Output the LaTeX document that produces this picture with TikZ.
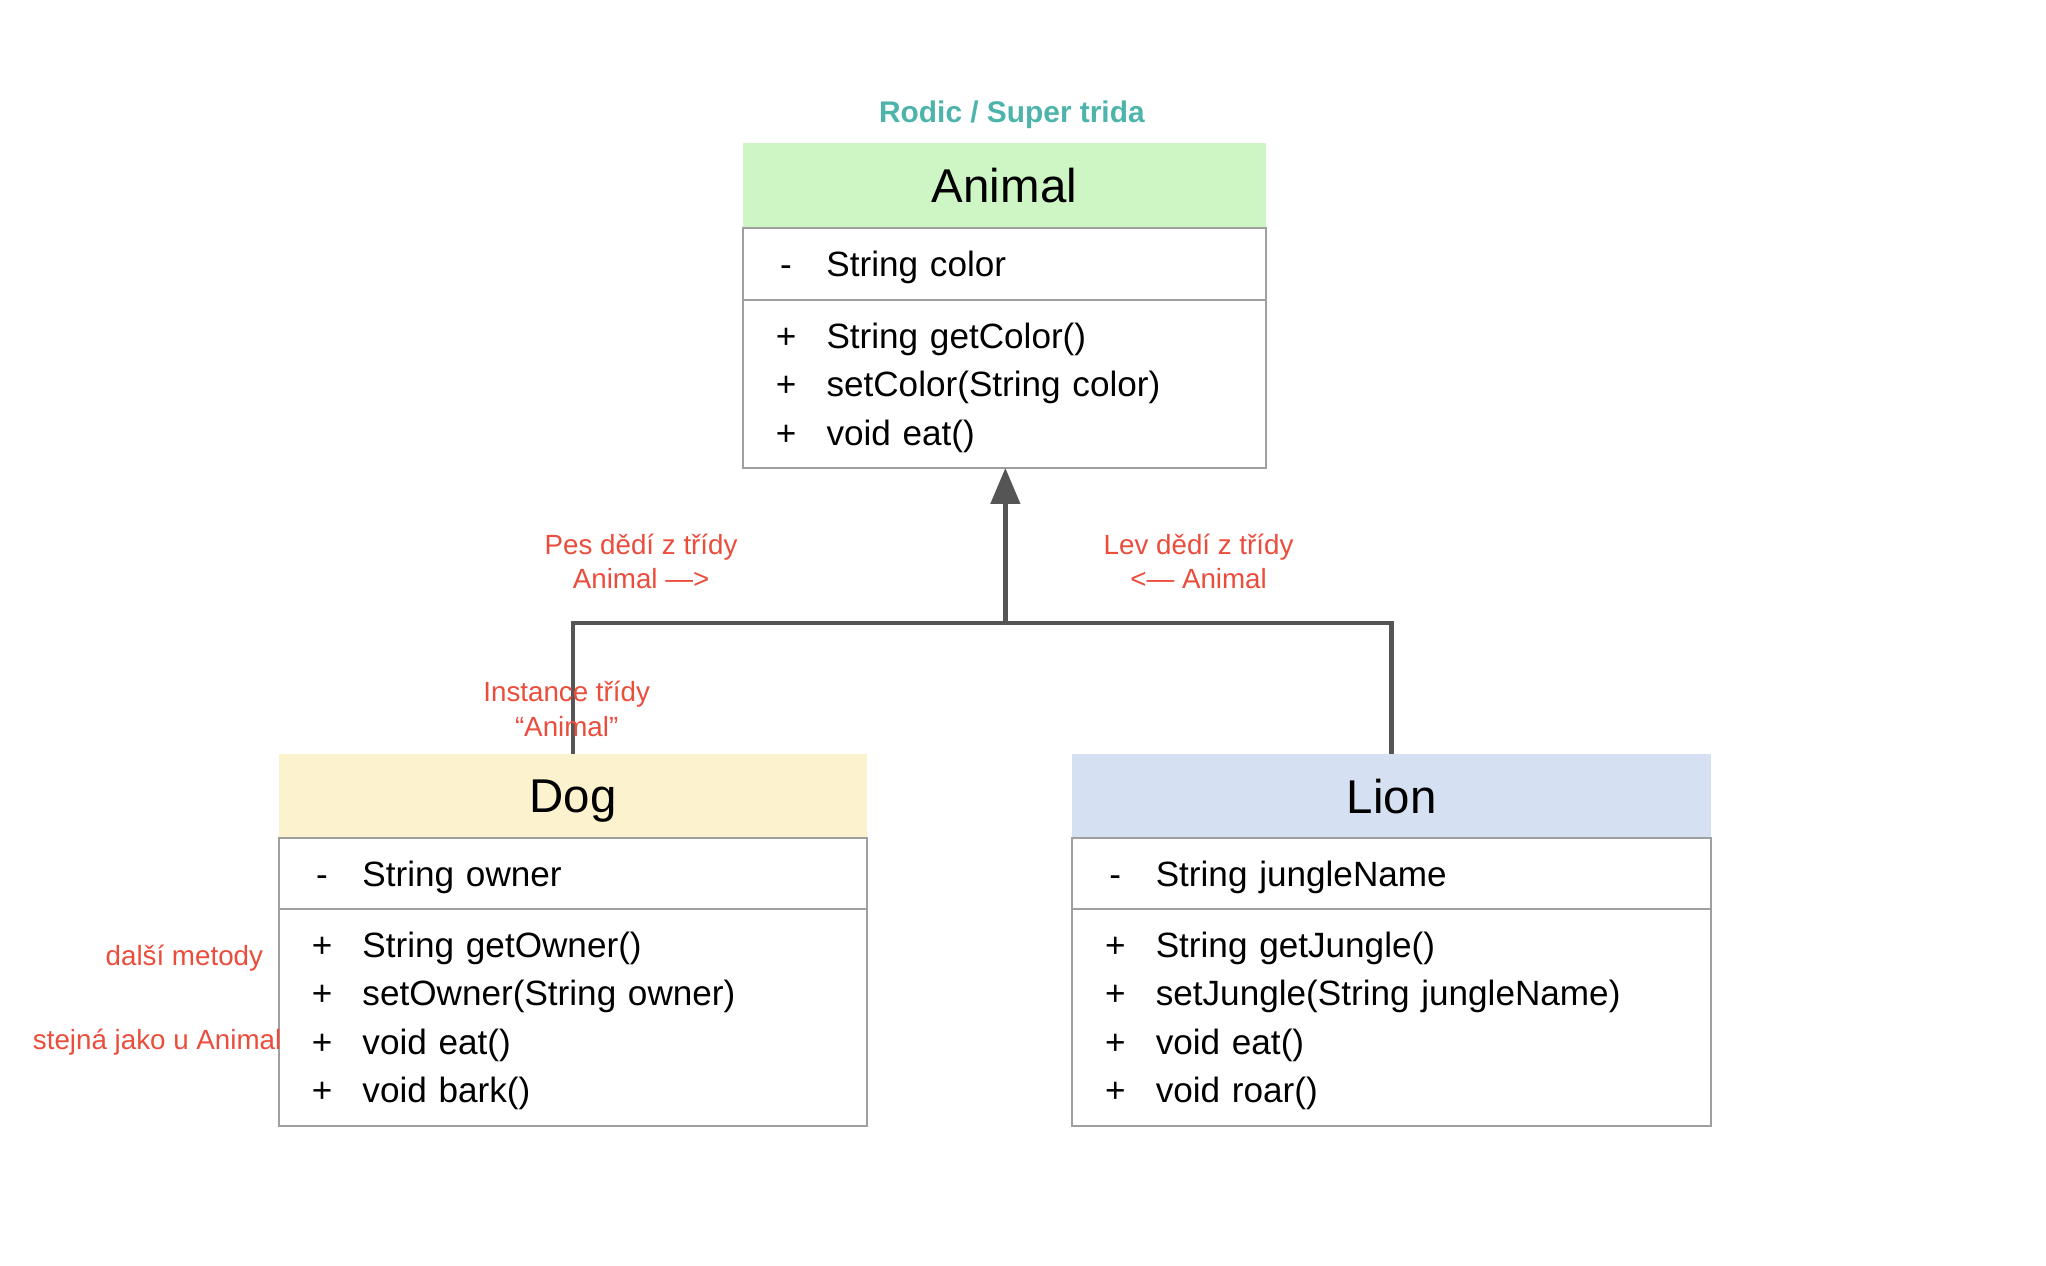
\documentclass[tikz,border=0pt]{standalone}
\usepackage{fontspec}
\setmainfont{Liberation Sans}
\usepackage{xcolor}
\usetikzlibrary{arrows.meta, positioning}

\definecolor{animalgreen}{RGB}{205,246,196}
\definecolor{dogyellow}{RGB}{252,242,206}
\definecolor{lionblue}{RGB}{213,225,242}
\definecolor{noteteal}{RGB}{77,180,172}
\definecolor{notered}{RGB}{234,77,60}
\definecolor{linkgray}{RGB}{85,85,85}

\newcommand{\visib}[1]{\rule{0pt}{9.2pt}\makebox[0.6cm]{#1}\hspace{0.105cm}}

\begin{document}
\begin{tikzpicture}[
    x=0.013056cm, y=-0.013056cm,
    classhead/.style={rectangle, fill=#1, inner sep=0pt, outer sep=0pt, text depth=0pt, font=\fontsize{13.5}{16}\selectfont},
    members/.style={rectangle, draw=gray!75, line width=0.6pt, inner xsep=0.13cm, inner ysep=0pt, outer sep=0pt, align=left, font=\fontsize{10}{13.75}\selectfont},
    link/.style={draw=linkgray, line width=1.3pt},
    note/.style={text=notered, align=center, inner sep=0pt, font=\fontsize{7.9}{9.8}\selectfont}
]
\useasboundingbox (0,0) rectangle (1567,969.6);

% Title
\node[text=noteteal, font=\bfseries\fontsize{8.5}{10}\selectfont] (title) at (775,88) {Rodic / Super trida};

% Parent class
\node[classhead=animalgreen, minimum width=5.23cm, minimum height=0.855cm] (animal) at (769.3,142) {Animal};
\node[members, text width=4.97cm, minimum height=0.723cm, below=0pt of animal] (animalattr) {\visib{-}String color};
\node[members, text width=4.97cm, minimum height=1.676cm, below=0pt of animalattr] (animalops) {\visib{+}String getColor()\\ \visib{+}setColor(String color)\\ \visib{+}void eat()};

% Dog
\node[classhead=dogyellow, minimum width=5.88cm, minimum height=0.843cm] (dog) at (438.8,609.6) {Dog};
\node[members, text width=5.62cm, minimum height=0.71cm, below=0pt of dog] (dogattr) {\visib{-}String owner};
\node[members, text width=5.62cm, minimum height=2.172cm, below=0pt of dogattr] (dogops) {\visib{+}String getOwner()\\ \visib{+}setOwner(String owner)\\ \visib{+}void eat()\\ \visib{+}void bark()};

% Lion
\node[classhead=lionblue, minimum width=6.39cm, minimum height=0.843cm] (lion) at (1065.9,609.6) {Lion};
\node[members, text width=6.13cm, minimum height=0.71cm, below=0pt of lion] (lionattr) {\visib{-}String jungleName};
\node[members, text width=6.13cm, minimum height=2.172cm, below=0pt of lionattr] (lionops) {\visib{+}String getJungle()\\ \visib{+}setJungle(String jungleName)\\ \visib{+}void eat()\\ \visib{+}void roar()};

% Inheritance
\coordinate (split) at (770,477);
\draw[link] (dog.north) |- (split) -| (lion.north);
\draw[link, -{Triangle[length=0.36cm, width=0.29cm]}] (split) -- (split |- animalops.south);

% Notes
\node[note] (pesnote) at (491,430) {Pes dědí z třídy\\Animal —>};
\node[note] (levnote) at (918,430) {Lev dědí z třídy\\<— Animal};
\node[note] (instnote) at (434,543) {Instance třídy\\“Animal”};
\node[note, anchor=east] (dalsinote) at (202,734) {další metody};
\node[note, anchor=east] (stejnanote) at (216,798) {stejná jako u Animal};

\end{tikzpicture}
\end{document}
